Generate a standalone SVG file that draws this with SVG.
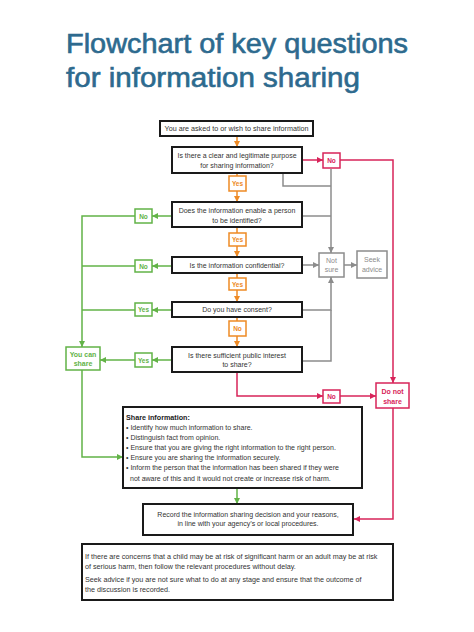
<svg xmlns="http://www.w3.org/2000/svg" width="474" height="632" viewBox="0 0 474 632">
<style>
.bg{fill:#fff}
.title{font-family:"Liberation Sans",Arial,sans-serif;font-size:27px;fill:#2d6a8e;stroke:#2d6a8e;stroke-width:0.6}
.box{fill:#fff;stroke:#1a1a1a;stroke-width:2}
.t{font-family:"Liberation Sans",Arial,sans-serif;font-size:7px;fill:#333}
.t2{font-size:7.2px}
.tb{font-family:"Liberation Sans",Arial,sans-serif;font-size:7.2px;fill:#222;font-weight:bold}
.c{text-anchor:middle}
.lo{fill:#fff;stroke:#ee8a25;stroke-width:1.5}
.lg{fill:#fff;stroke:#62b347;stroke-width:1.5}
.lr{fill:#fff;stroke:#d8245a;stroke-width:1.5}
.lgr{fill:#fff;stroke:#8c8c8c;stroke-width:1.5}
.to{font-family:"Liberation Sans",Arial,sans-serif;font-size:6.5px;font-weight:bold;fill:#ee8a25;text-anchor:middle}
.tg{font-family:"Liberation Sans",Arial,sans-serif;font-size:6.5px;font-weight:bold;fill:#62b347;text-anchor:middle}
.tr{font-family:"Liberation Sans",Arial,sans-serif;font-size:6.5px;font-weight:bold;fill:#d8245a;text-anchor:middle}
.big{font-size:7px}
.tgr{font-family:"Liberation Sans",Arial,sans-serif;font-size:7px;fill:#8c8c8c;text-anchor:middle}
.co{fill:none;stroke:#ee8a25;stroke-width:1.5}
.cg{fill:none;stroke:#62b347;stroke-width:1.5}
.cr{fill:none;stroke:#d8245a;stroke-width:1.5}
.cgr{fill:none;stroke:#8c8c8c;stroke-width:1.5}
</style>
<defs>
<marker id="ao" markerUnits="userSpaceOnUse" markerWidth="6" markerHeight="6" refX="6" refY="3" orient="auto"><path d="M0,0 L6,3 L0,6 z" fill="#ee8a25"/></marker>
<marker id="ag" markerUnits="userSpaceOnUse" markerWidth="6" markerHeight="6" refX="6" refY="3" orient="auto"><path d="M0,0 L6,3 L0,6 z" fill="#62b347"/></marker>
<marker id="ar" markerUnits="userSpaceOnUse" markerWidth="6" markerHeight="6" refX="6" refY="3" orient="auto"><path d="M0,0 L6,3 L0,6 z" fill="#d8245a"/></marker>
<marker id="agr" markerUnits="userSpaceOnUse" markerWidth="6" markerHeight="6" refX="6" refY="3" orient="auto"><path d="M0,0 L6,3 L0,6 z" fill="#8c8c8c"/></marker>
</defs>
<rect class="bg" x="0" y="0" width="474" height="632"/>
<text class="title" x="66" y="53" textLength="342" lengthAdjust="spacingAndGlyphs">Flowchart of key questions</text>
<text class="title" x="66" y="87" textLength="294" lengthAdjust="spacingAndGlyphs">for information sharing</text>

<g id="connectors">
<path class="co" d="M237,136 V147" marker-end="url(#ao)"/>
<path class="co" d="M237,173 V176"/>
<path class="co" d="M237,191 V202" marker-end="url(#ao)"/>
<path class="co" d="M237,227 V233"/>
<path class="co" d="M237,246 V257" marker-end="url(#ao)"/>
<path class="co" d="M237,273 V278"/>
<path class="co" d="M237,290 V302" marker-end="url(#ao)"/>
<path class="co" d="M237,317 V321"/>
<path class="co" d="M237,336 V347" marker-end="url(#ao)"/>

<path class="cr" d="M302,160 H323" marker-end="url(#ar)"/>
<path class="cr" d="M340,160 H393 V383" marker-end="url(#ar)"/>
<path class="cr" d="M237,372 V396 H323" marker-end="url(#ar)"/>
<path class="cr" d="M340,396 H376" marker-end="url(#ar)"/>
<path class="cr" d="M393,408 V519 H354" marker-end="url(#ar)"/>

<path class="cgr" d="M283,173 V186 H331"/>
<path class="cgr" d="M331,169 V253" marker-end="url(#agr)"/>
<path class="cgr" d="M302,216 H331"/>
<path class="cgr" d="M302,265 H319" marker-end="url(#agr)"/>
<path class="cgr" d="M344,265 H357" marker-end="url(#agr)"/>
<path class="cgr" d="M302,310 H331 V277" marker-end="url(#agr)"/>
<path class="cgr" d="M302,361 H331 V310"/>

<path class="cg" d="M172,216 H152" marker-end="url(#ag)"/>
<path class="cg" d="M135,216 H82 V347" marker-end="url(#ag)"/>
<path class="cg" d="M172,266 H152" marker-end="url(#ag)"/>
<path class="cg" d="M135,266 H82"/>
<path class="cg" d="M172,310 H152" marker-end="url(#ag)"/>
<path class="cg" d="M135,310 H82"/>
<path class="cg" d="M172,360 H152" marker-end="url(#ag)"/>
<path class="cg" d="M135,360 H100" marker-end="url(#ag)"/>
<path class="cg" d="M82,370 V457 H123" marker-end="url(#ag)"/>
<path class="cg" d="M237,488 V504" marker-end="url(#ag)"/>
</g>

<g id="start">
<rect class="box" x="160" y="121" width="153" height="15"/>
<text class="t t2 c" x="236.5" y="131">You are asked to or wish to share information</text>
</g>
<g id="q1">
<rect class="box" x="172" y="147" width="130" height="26"/>
<text class="t c" x="237" y="157.5">Is there a clear and legitimate purpose</text>
<text class="t c" x="237" y="167.5">for sharing information?</text>
</g>
<g id="q2">
<rect class="box" x="172" y="202" width="130" height="25"/>
<text class="t c" x="237" y="212.5">Does the information enable a person</text>
<text class="t c" x="237" y="222.5">to be identified?</text>
</g>
<g id="q3">
<rect class="box" x="172" y="257" width="130" height="16"/>
<text class="t c" x="237" y="267.5">Is the information confidential?</text>
</g>
<g id="q4">
<rect class="box" x="172" y="302" width="130" height="15"/>
<text class="t c" x="237" y="312">Do you have consent?</text>
</g>
<g id="q5">
<rect class="box" x="172" y="347" width="130" height="25"/>
<text class="t c" x="237" y="357.5">Is there sufficient public interest</text>
<text class="t c" x="237" y="367">to share?</text>
</g>

<g id="yes1"><rect class="lo" x="229" y="176" width="17" height="15"/><text class="to" x="237.5" y="186">Yes</text></g>
<g id="yes2"><rect class="lo" x="229" y="233" width="17" height="13"/><text class="to" x="237.5" y="242">Yes</text></g>
<g id="yes3"><rect class="lo" x="229" y="278" width="17" height="12"/><text class="to" x="237.5" y="286.5">Yes</text></g>
<g id="no-consent"><rect class="lo" x="229" y="321" width="17" height="15"/><text class="to" x="237.5" y="331">No</text></g>

<g id="no-top"><rect class="lr" x="323" y="153" width="17" height="15"/><text class="tr" x="331.5" y="163">No</text></g>
<g id="no-public"><rect class="lr" x="323" y="390" width="17" height="13"/><text class="tr" x="331.5" y="399">No</text></g>
<g id="do-not-share"><rect class="lr" x="376" y="383" width="33" height="25"/><text class="tr big" x="392.5" y="393.5">Do not</text><text class="tr big" x="392.5" y="403.5">share</text></g>

<g id="no-id"><rect class="lg" x="135" y="209" width="17" height="14"/><text class="tg" x="143.5" y="218.5">No</text></g>
<g id="no-conf"><rect class="lg" x="135" y="260" width="17" height="12"/><text class="tg" x="143.5" y="268.5">No</text></g>
<g id="yes-consent"><rect class="lg" x="135" y="303" width="17" height="13"/><text class="tg" x="143.5" y="312">Yes</text></g>
<g id="yes-public"><rect class="lg" x="135" y="353" width="17" height="14"/><text class="tg" x="143.5" y="362.5">Yes</text></g>
<g id="you-can-share"><rect class="lg" x="66" y="347" width="34" height="23"/><text class="tg big" x="83" y="356.5">You can</text><text class="tg big" x="83" y="366">share</text></g>

<g id="not-sure"><rect class="lgr" x="319" y="253" width="25" height="24"/><text class="tgr" x="331.5" y="262.5">Not</text><text class="tgr" x="331.5" y="272">sure</text></g>
<g id="seek-advice"><rect class="lgr" x="357" y="251" width="30" height="27"/><text class="tgr" x="372" y="261.5">Seek</text><text class="tgr" x="372" y="271.5">advice</text></g>

<g id="share-info">
<rect class="box" x="123" y="407" width="239" height="81"/>
<text class="tb" x="126" y="419.5">Share information:</text>
<text class="t" x="126" y="430">• Identify how much information to share.</text>
<text class="t" x="126" y="439.5">• Distinguish fact from opinion.</text>
<text class="t" x="126" y="450">• Ensure that you are giving the right information to the right person.</text>
<text class="t" x="126" y="460">• Ensure you are sharing the information securely.</text>
<text class="t" x="126" y="470">• Inform the person that the information has been shared if they were</text>
<text class="t" x="130" y="480.5">not aware of this and it would not create or increase risk of harm.</text>
</g>

<g id="record">
<rect class="box" x="143" y="504" width="210" height="31"/>
<text class="t c" x="248" y="516.5">Record the information sharing decision and your reasons,</text>
<text class="t c" x="248" y="526">in line with your agency’s or local procedures.</text>
</g>

<g id="note">
<rect class="box" x="82" y="544" width="311" height="56"/>
<text class="t t2" x="85" y="558.5">If there are concerns that a child may be at risk of significant harm or an adult may be at risk</text>
<text class="t t2" x="85" y="568.5">of serious harm, then follow the relevant procedures without delay.</text>
<text class="t t2" x="85" y="581.5">Seek advice if you are not sure what to do at any stage and ensure that the outcome of</text>
<text class="t t2" x="85" y="591.5">the discussion is recorded.</text>
</g>
</svg>
